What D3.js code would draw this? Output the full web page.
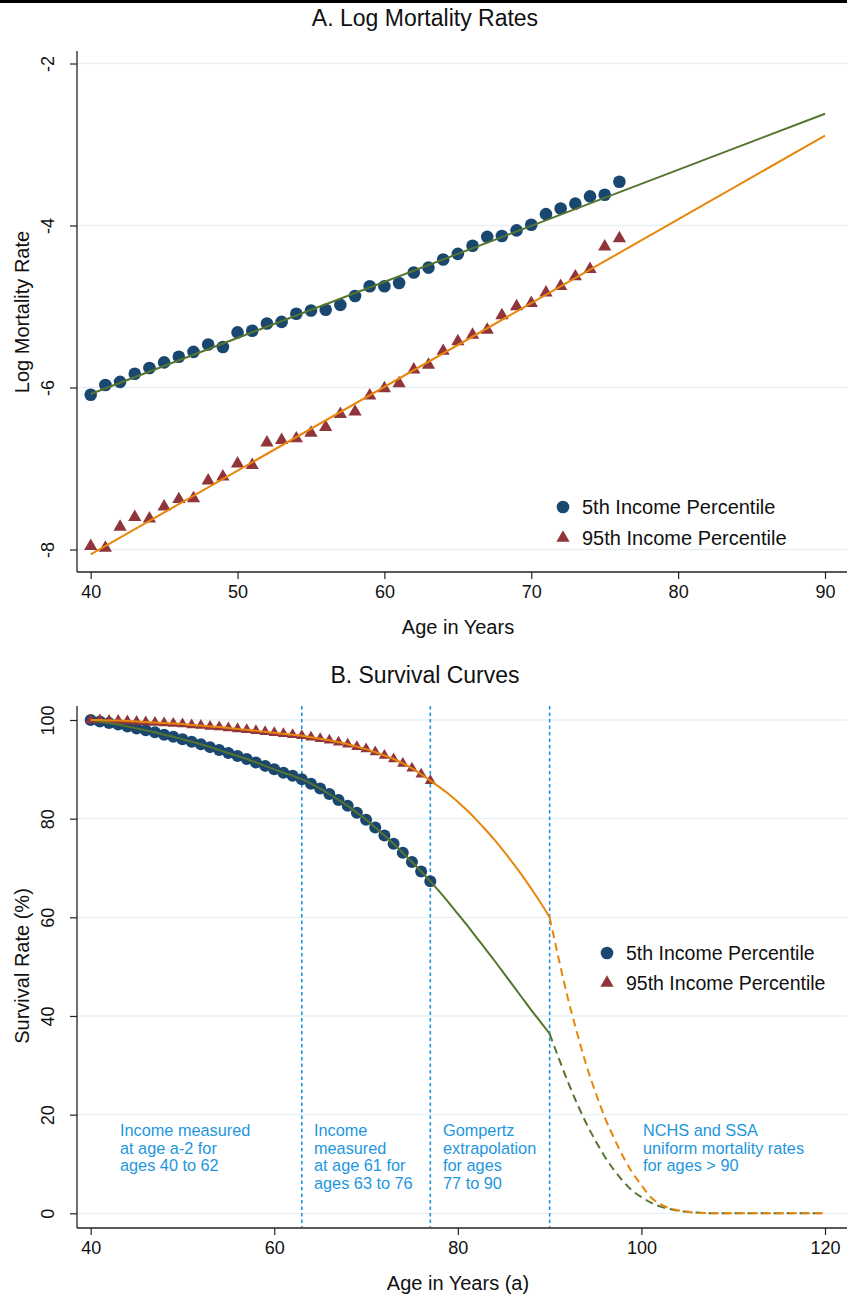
<!DOCTYPE html>
<html><head><meta charset="utf-8">
<script src="https://cdn.jsdelivr.net/npm/d3@7"></script>
<style>body{margin:0;background:#fff}svg{display:block}text{font-family:"Liberation Sans",Arial,sans-serif}</style>
</head><body><svg id="c" width="847" height="1297"></svg>
<script>
// ---------- Panel A data ----------
const agesA = [40,41,42,43,44,45,46,47,48,49,50,51,52,53,54,55,56,57,58,59,60,61,62,63,64,65,66,67,68,69,70,71,72,73,74,75,76];
const logMort5 = [-6.09,-5.97,-5.93,-5.83,-5.76,-5.69,-5.62,-5.56,-5.47,-5.50,-5.32,-5.30,-5.21,-5.19,-5.09,-5.05,-5.04,-4.98,-4.87,-4.75,-4.75,-4.71,-4.58,-4.52,-4.42,-4.35,-4.25,-4.14,-4.13,-4.06,-3.99,-3.86,-3.79,-3.73,-3.64,-3.62,-3.46];
const logMort95 = [-7.96,-7.98,-7.72,-7.60,-7.62,-7.47,-7.38,-7.37,-7.15,-7.10,-6.94,-6.96,-6.68,-6.65,-6.63,-6.56,-6.49,-6.33,-6.30,-6.10,-6.01,-5.95,-5.78,-5.72,-5.55,-5.43,-5.35,-5.29,-5.11,-5.00,-4.96,-4.83,-4.75,-4.63,-4.54,-4.26,-4.16];
const fitAges = [40,90];
const fit5 = [-6.08,-2.62];
const fit95 = [-8.06,-2.89];
const xTicksA = [40,50,60,70,80,90];
const yTicksA = [-2,-4,-6,-8];

// ---------- Panel B data ----------
const agesB = [40,41,42,43,44,45,46,47,48,49,50,51,52,53,54,55,56,57,58,59,60,61,62,63,64,65,66,67,68,69,70,71,72,73,74,75,76,77];
const surv5 = [100.0,99.7,99.4,99.1,98.7,98.3,97.9,97.5,97.0,96.6,96.1,95.6,95.1,94.5,93.9,93.3,92.7,92.1,91.4,90.7,90.0,89.3,88.7,88.0,87.1,86.1,85.0,83.8,82.6,81.2,79.8,78.2,76.6,74.9,73.1,71.2,69.3,67.3];
const surv95 = [100.0,100.0,99.9,99.9,99.8,99.7,99.6,99.5,99.4,99.3,99.2,99.0,98.9,98.7,98.6,98.4,98.2,98.0,97.8,97.6,97.4,97.2,97.0,96.8,96.5,96.2,95.9,95.5,95.1,94.6,94.1,93.5,92.8,92.1,91.2,90.2,89.0,87.7];
const extAges = [77,78,79,80,81,82,83,84,85,86,87,88,89,90];
const ext5 = [67.3,65.2,63.0,60.7,58.4,56.0,53.6,51.2,48.7,46.2,43.7,41.2,38.8,36.4];
const ext95 = [87.7,86.4,85.0,83.4,81.7,79.8,77.8,75.7,73.4,71.0,68.5,65.8,63.0,60.0];
const tailAges = [90,91,92,93,94,95,96,97,98,99,100,101,102,103,104,105,106,107,108,109,110,111,112,113,114,115,116,117,118,119,120];
const tail5 = [36.4,31.4,26.6,22.2,18.2,14.7,11.5,8.8,6.5,4.6,3.3,2.2,1.4,0.9,0.5,0.3,0.15,0.05,0,0,0,0,0,0,0,0,0,0,0,0,0];
const tail95 = [60.0,51.5,43.5,36.5,30.0,24.5,19.5,15.3,11.5,8.3,5.7,3.3,1.9,1.1,0.6,0.3,0.1,0.05,0,0,0,0,0,0,0,0,0,0,0,0,0];
const regionAges = [63,77,90];
const xTicksB = [40,60,80,100,120];
const yTicksB = [0,20,40,60,80,100];
const regionNotes = [
  {age:40, lines:["Income measured","at age a-2 for","ages 40 to 62"]},
  {age:63, lines:["Income","measured","at age 61 for","ages 63 to 76"]},
  {age:77, lines:["Gompertz","extrapolation","for ages","77 to 90"]},
  {age:90, lines:["NCHS and SSA","uniform mortality rates","for ages > 90"]}
];
const seriesNames = ["5th Income Percentile","95th Income Percentile"];

// ---------- styles ----------
const C_NAVY="#1a476f", C_MAROON="#90353b", C_GREEN="#55752f", C_ORANGE="#e8860c", C_BLUE="#1e96de", C_GRID="#e9f0f3", C_AXIS="#222";

const svg = d3.select("#c");
svg.append("rect").attr("x",0).attr("y",0).attr("width",847).attr("height",3).attr("fill","#000");

function panel(cfg){
  const g = svg.append("g");
  const x = d3.scaleLinear().domain(cfg.xDom).range([90.7,825]);
  const y = d3.scaleLinear().domain(cfg.yDom).range(cfg.yRange);
  g.selectAll(".grid").data(cfg.yTicks).join("line")
    .attr("x1",78).attr("x2",847).attr("y1",d=>y(d)).attr("y2",d=>y(d))
    .attr("stroke",C_GRID).attr("stroke-width",1.3);
  const xa = g.append("g").attr("transform",`translate(0,${cfg.axisY})`)
    .call(d3.axisBottom(x).tickValues(cfg.xTicks).tickFormat(d=>String(d)).tickSize(7).tickSizeOuter(0).tickPadding(6));
  xa.select(".domain").remove();
  xa.selectAll("line").attr("stroke",C_AXIS).attr("stroke-width",1.2);
  xa.selectAll("text").attr("font-size",18).attr("fill","#111").attr("font-family","Liberation Sans, Arial, sans-serif");
  g.append("line").attr("x1",77).attr("x2",847).attr("y1",cfg.axisY).attr("y2",cfg.axisY).attr("stroke",C_AXIS).attr("stroke-width",1.3);
  const ya = g.append("g").attr("transform","translate(77,0)")
    .call(d3.axisLeft(y).tickValues(cfg.yTicks).tickFormat(d=>String(d)).tickSize(7).tickSizeOuter(0));
  ya.select(".domain").remove();
  ya.selectAll("line").attr("stroke",C_AXIS).attr("stroke-width",1.2);
  ya.selectAll("text").attr("font-size",18).attr("fill","#111").attr("font-family","Liberation Sans, Arial, sans-serif")
    .attr("transform","rotate(-90)").attr("x",0).attr("y",-29).attr("dy","0.35em").attr("text-anchor","middle");
  g.append("line").attr("x1",77).attr("x2",77).attr("y1",cfg.axisTop).attr("y2",cfg.axisY).attr("stroke",C_AXIS).attr("stroke-width",1.3);
  g.append("text").attr("x",425).attr("y",cfg.titleY).attr("text-anchor","middle").attr("font-size",23).attr("fill","#111").text(cfg.title);
  g.append("text").attr("x",458).attr("y",cfg.axisY+62).attr("text-anchor","middle").attr("font-size",20).attr("fill","#111").text(cfg.xTitle);
  g.append("text").attr("transform",`translate(29,${cfg.yTitleY}) rotate(-90)`).attr("text-anchor","middle").attr("font-size",20).attr("fill","#111").text(cfg.yTitle);
  return {g,x,y};
}

// ---------- Panel A ----------
const A = panel({xDom:[40,90], yDom:[-2,-8], yRange:[63.5,549.5], yTicks:yTicksA, xTicks:xTicksA, axisY:572, axisTop:51,
  title:"A. Log Mortality Rates", titleY:26, xTitle:"Age in Years", yTitle:"Log Mortality Rate", yTitleY:312});
A.g.selectAll(".c5").data(agesA).join("circle")
  .attr("cx",d=>A.x(d)).attr("cy",(d,i)=>A.y(logMort5[i])).attr("r",6.3).attr("fill",C_NAVY);
A.g.selectAll(".t95").data(agesA).join("path")
  .attr("d",d3.symbol(d3.symbolTriangle,76))
  .attr("transform",(d,i)=>`translate(${A.x(d)},${A.y(logMort95[i])})`).attr("fill",C_MAROON);
const lineA = d3.line().x(d=>A.x(d[0])).y(d=>A.y(d[1]));
A.g.append("path").attr("d",lineA(fitAges.map((a,i)=>[a,fit5[i]]))).attr("fill","none").attr("stroke",C_GREEN).attr("stroke-width",2);
A.g.append("path").attr("d",lineA(fitAges.map((a,i)=>[a,fit95[i]]))).attr("fill","none").attr("stroke",C_ORANGE).attr("stroke-width",2);
A.g.append("circle").attr("cx",563).attr("cy",507).attr("r",6.3).attr("fill",C_NAVY);
A.g.append("path").attr("d",d3.symbol(d3.symbolTriangle,76)).attr("transform","translate(563,538)").attr("fill",C_MAROON);
A.g.append("text").attr("x",582).attr("y",507).attr("dy","0.35em").attr("font-size",20).attr("fill","#111").text(seriesNames[0]);
A.g.append("text").attr("x",582).attr("y",538).attr("dy","0.35em").attr("font-size",20).attr("fill","#111").text(seriesNames[1]);

// ---------- Panel B ----------
const B = panel({xDom:[40,120], yDom:[0,100], yRange:[1213.3,720], yTicks:yTicksB, xTicks:xTicksB, axisY:1228, axisTop:706,
  title:"B. Survival Curves", titleY:683, xTitle:"Age in Years (a)", yTitle:"Survival Rate (%)", yTitleY:966});
B.g.selectAll(".reg").data(regionAges).join("line")
  .attr("x1",d=>B.x(d)).attr("x2",d=>B.x(d)).attr("y1",706).attr("y2",1227)
  .attr("stroke",C_BLUE).attr("stroke-width",1.6).attr("stroke-dasharray","3.5,3");
B.g.selectAll(".c5").data(agesB).join("circle")
  .attr("cx",d=>B.x(d)).attr("cy",(d,i)=>B.y(surv5[i])).attr("r",6).attr("fill",C_NAVY);
B.g.selectAll(".t95").data(agesB).join("path")
  .attr("d",d3.symbol(d3.symbolTriangle,55))
  .attr("transform",(d,i)=>`translate(${B.x(d)},${B.y(surv95[i])})`).attr("fill",C_MAROON);
const lineB = d3.line().x(d=>B.x(d[0])).y(d=>B.y(d[1])).curve(d3.curveMonotoneX);
const pairs = (a,v)=>a.map((t,i)=>[t,v[i]]);
B.g.append("path").attr("d",lineB(pairs(agesB,surv5).concat(pairs(extAges,ext5).slice(1)))).attr("fill","none").attr("stroke",C_GREEN).attr("stroke-width",2);
B.g.append("path").attr("d",lineB(pairs(agesB,surv95).concat(pairs(extAges,ext95).slice(1)))).attr("fill","none").attr("stroke",C_ORANGE).attr("stroke-width",2);
B.g.append("path").attr("d",lineB(pairs(tailAges,tail5))).attr("fill","none").attr("stroke",C_GREEN).attr("stroke-width",2).attr("stroke-dasharray","8,5");
B.g.append("path").attr("d",lineB(pairs(tailAges,tail95))).attr("fill","none").attr("stroke",C_ORANGE).attr("stroke-width",2).attr("stroke-dasharray","8,5");
const noteX = [120,314,443,643];
regionNotes.forEach((n,k)=>{
  const t = B.g.append("text").attr("font-size",16.3).attr("fill",C_BLUE);
  n.lines.forEach((s,j)=>t.append("tspan").attr("x",noteX[k]).attr("y",1136+j*17.5).text(s));
});
B.g.append("circle").attr("cx",607).attr("cy",953).attr("r",6.3).attr("fill",C_NAVY);
B.g.append("path").attr("d",d3.symbol(d3.symbolTriangle,76)).attr("transform","translate(607,983)").attr("fill",C_MAROON);
B.g.append("text").attr("x",626).attr("y",953).attr("dy","0.35em").attr("font-size",19.5).attr("fill","#111").text(seriesNames[0]);
B.g.append("text").attr("x",626).attr("y",983).attr("dy","0.35em").attr("font-size",19.5).attr("fill","#111").text(seriesNames[1]);
</script></body></html>
